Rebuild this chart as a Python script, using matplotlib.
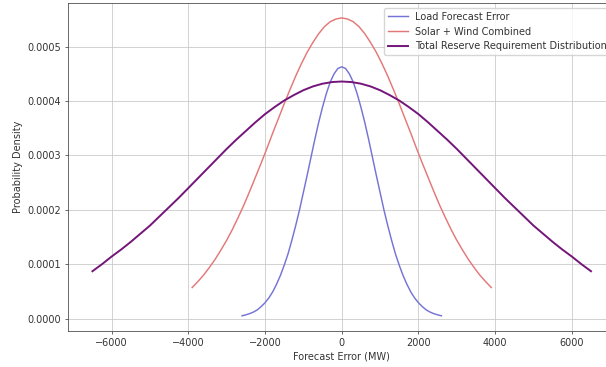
import matplotlib
matplotlib.use("Agg")
from matplotlib import pyplot as plt

# values (density in units of 1e-4)
load_x = [-2600, -2500, -2400, -2300, -2200, -2100, -2000, -1900, -1800, -1700, -1600, -1500, -1400,
          -1300, -1200, -1100, -1000, -900, -800, -700, -600, -500, -400, -300, -200, -100,
          0, 100, 200, 300, 400, 500, 600, 700, 800, 900, 1000, 1100, 1200, 1300,
          1400, 1500, 1600, 1700, 1800, 1900, 2000, 2100, 2200, 2300, 2400, 2500, 2600]
load_y = [0.05, 0.068, 0.09, 0.12, 0.16, 0.22, 0.29, 0.38, 0.49, 0.63, 0.79, 0.98, 1.19,
          1.44, 1.71, 2.00, 2.32, 2.64, 2.97, 3.30, 3.61, 3.89, 4.14, 4.35, 4.50, 4.60,
          4.63, 4.60, 4.50, 4.35, 4.14, 3.89, 3.61, 3.30, 2.97, 2.64, 2.32, 2.00, 1.71, 1.44,
          1.19, 0.98, 0.79, 0.63, 0.49, 0.38, 0.29, 0.22, 0.16, 0.12, 0.09, 0.068, 0.05]

solar_x = [-3900, -3750, -3600, -3450, -3300, -3150, -3000, -2850, -2700, -2550, -2400, -2250, -2100,
           -1950, -1800, -1650, -1500, -1350, -1200, -1050, -900, -750, -600, -450, -300, -150,
           0, 150, 300, 450, 600, 750, 900, 1050, 1200, 1350, 1500, 1650, 1800, 1950,
           2100, 2250, 2400, 2550, 2700, 2850, 3000, 3150, 3300, 3450, 3600, 3750, 3900]
solar_y = [0.57, 0.68, 0.80, 0.94, 1.09, 1.26, 1.44, 1.64, 1.86, 2.09, 2.34, 2.60, 2.86,
           3.13, 3.41, 3.68, 3.95, 4.21, 4.46, 4.69, 4.90, 5.08, 5.24, 5.37, 5.46, 5.51,
           5.53, 5.51, 5.46, 5.37, 5.24, 5.08, 4.90, 4.69, 4.46, 4.21, 3.95, 3.68, 3.41, 3.13,
           2.86, 2.60, 2.34, 2.09, 1.86, 1.64, 1.44, 1.26, 1.09, 0.94, 0.80, 0.68, 0.57]

total_x = [-6500, -6250, -6000, -5750, -5500, -5250, -5000, -4750, -4500, -4250, -4000, -3750, -3500,
           -3250, -3000, -2750, -2500, -2250, -2000, -1750, -1500, -1250, -1000, -750, -500, -250,
           0, 250, 500, 750, 1000, 1250, 1500, 1750, 2000, 2250, 2500, 2750, 3000, 3250,
           3500, 3750, 4000, 4250, 4500, 4750, 5000, 5250, 5500, 5750, 6000, 6250, 6500]
total_y = [0.87, 1.00, 1.14, 1.27, 1.41, 1.56, 1.71, 1.88, 2.05, 2.22, 2.40, 2.58, 2.76,
           2.94, 3.12, 3.29, 3.45, 3.61, 3.76, 3.89, 4.01, 4.11, 4.20, 4.27, 4.32, 4.35,
           4.36, 4.35, 4.32, 4.27, 4.20, 4.11, 4.01, 3.89, 3.76, 3.61, 3.45, 3.29, 3.12, 2.94,
           2.76, 2.58, 2.40, 2.22, 2.05, 1.88, 1.71, 1.56, 1.41, 1.27, 1.14, 1.00, 0.87]

labels = ["Load Forecast Error", "Solar + Wind Combined", "Total Reserve Requirement Distribution"]

s = 0.7  # picture is a scaled-down screenshot
plt.rcParams.update({
    "font.size": 10 * s,
    "text.color": "#333333",
    "axes.labelcolor": "#333333",
    "xtick.color": "#444444",
    "ytick.color": "#444444",
    "xtick.labelcolor": "#333333",
    "ytick.labelcolor": "#333333",
    "axes.edgecolor": "#444444",
    "axes.linewidth": 0.8 * s,
    "grid.linewidth": 0.8 * s,
    "grid.color": "#c8c8c8",
    "xtick.major.size": 3.5 * s,
    "ytick.major.size": 3.5 * s,
    "xtick.major.width": 0.8 * s,
    "ytick.major.width": 0.8 * s,
    "xtick.major.pad": 3.5 * s,
    "ytick.major.pad": 3.5 * s,
    "axes.labelpad": 4 * s,
})

fig = plt.figure(figsize=(6.06, 3.67), dpi=100)
ax = fig.add_axes([0.1114, 0.0989, 0.905, 0.8929])

sc = 1e-4
ax.plot(load_x, [v * sc for v in load_y], color="#7474d6", lw=1.5 * s, label=labels[0])
ax.plot(solar_x, [v * sc for v in solar_y], color="#e47878", lw=1.5 * s, label=labels[1])
ax.plot(total_x, [v * sc for v in total_y], color="#74157a", lw=2 * s, label=labels[2])

ax.set_xlabel("Forecast Error (MW)")
ax.set_ylabel("Probability Density")
ax.grid(True)
ax.legend(loc="upper right")

fig.savefig("out.png", dpi=100)
